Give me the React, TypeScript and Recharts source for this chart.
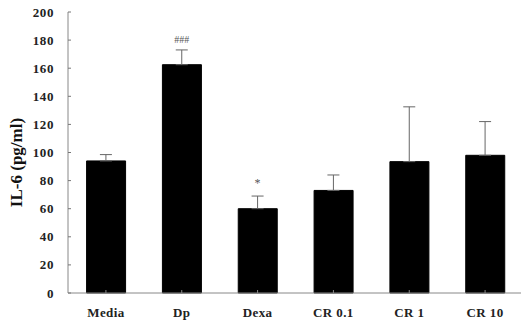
import React from "react";
import { ComposedChart, Bar, XAxis, YAxis, ErrorBar, Scatter } from "recharts";

const groups = ["Media", "Dp", "Dexa", "CR 0.1", "CR 1", "CR 10"];
const il6Means = [94, 162.5, 60, 73, 93.5, 98];
const il6Errors = [4.5, 10.5, 9, 11, 39, 24];
const marks = ["", "###", "*", "", "", ""];
const yTicks = [0, 20, 40, 60, 80, 100, 120, 140, 160, 180, 200];

const rows = groups.map((g, i) => ({
  group: g,
  mean: il6Means[i],
  err: [0, il6Errors[i]],
  top: il6Means[i] + il6Errors[i],
  mark: marks[i],
}));

const FONT = "'Liberation Serif', 'DejaVu Serif', serif";

// y ticks point inward from the axis line, labels sit to the left
const YTick = (props: any) => {
  const { x, y, payload } = props;
  return (
    <g>
      <line x1={x} y1={y} x2={x + 3} y2={y} stroke="#777" strokeWidth={1} />
      <text x={x - 14} y={y} dy={4.5} textAnchor="end" fontFamily={FONT} fontWeight="bold" fontSize={13} letterSpacing={0.6} fill="#222">
        {payload.value}
      </text>
    </g>
  );
};

const XTick = (props: any) => {
  const { x, y, payload } = props;
  return (
    <text x={x} y={y} dy={25} textAnchor="middle" fontFamily={FONT} fontWeight="bold" fontSize={13} letterSpacing={0.4} fill="#222">
      {payload.value}
    </text>
  );
};

const MarkShape = (props: any) => {
  const { cx, cy, payload } = props;
  if (!payload.mark) return <g />;
  const isStar = payload.mark === "*";
  return (
    <text
      x={cx}
      y={isStar ? cy - 9 : cy - 7}
      textAnchor="middle"
      fontFamily={FONT}
      fontSize={isStar ? 12 : 10}
      fill="#555"
    >
      {payload.mark}
    </text>
  );
};

const NoDot = () => <g />;

const YTitle = (props: any) => {
  const vb = props.viewBox || { x: 0, y: 12, height: 281 };
  const cx = vb.x + 16;
  const cy = vb.y + vb.height / 2 + 10;
  return (
    <text
      x={cx}
      y={cy}
      transform={`rotate(-90 ${cx} ${cy})`}
      textAnchor="middle"
      dominantBaseline="central"
      fontFamily={FONT}
      fontWeight="bold"
      fontSize={17}
      fill="#111"
    >
      IL-6 (pg/ml)
    </text>
  );
};

export default function App() {
  return (
    <div style={{ position: "fixed", left: 0, top: 0, width: 521, height: 323, overflow: "hidden", background: "#fff" }}>
      <ComposedChart
        width={523}
        height={323}
        data={rows}
        margin={{ top: 12, right: 0, bottom: 0, left: 0 }}
        barCategoryGap="24.5%"
      >
        <XAxis
          dataKey="group"
          height={30}
          stroke="#888"
          tick={<XTick />}
          tickLine={{ stroke: "#888" }}
          tickSize={-3}
          interval={0}
        />
        <YAxis
          domain={[0, 200]}
          ticks={yTicks}
          width={68}
          stroke="#888"
          tickLine={false}
          tickSize={0}
          tickMargin={0}
          tick={<YTick />}
          interval={0}
          label={<YTitle />}
        />
        {/* upper error whiskers, drawn beneath the bars so only the part above each bar shows */}
        <Scatter dataKey="mean" shape={<NoDot />} isAnimationActive={false}>
          <ErrorBar dataKey="err" direction="y" width={6} stroke="#666" strokeWidth={1} />
        </Scatter>
        <Bar dataKey="mean" fill="#000" stroke="#000" strokeWidth={1} isAnimationActive={false} />
        <Scatter dataKey="top" shape={<MarkShape />} isAnimationActive={false} />
      </ComposedChart>
    </div>
  );
}
